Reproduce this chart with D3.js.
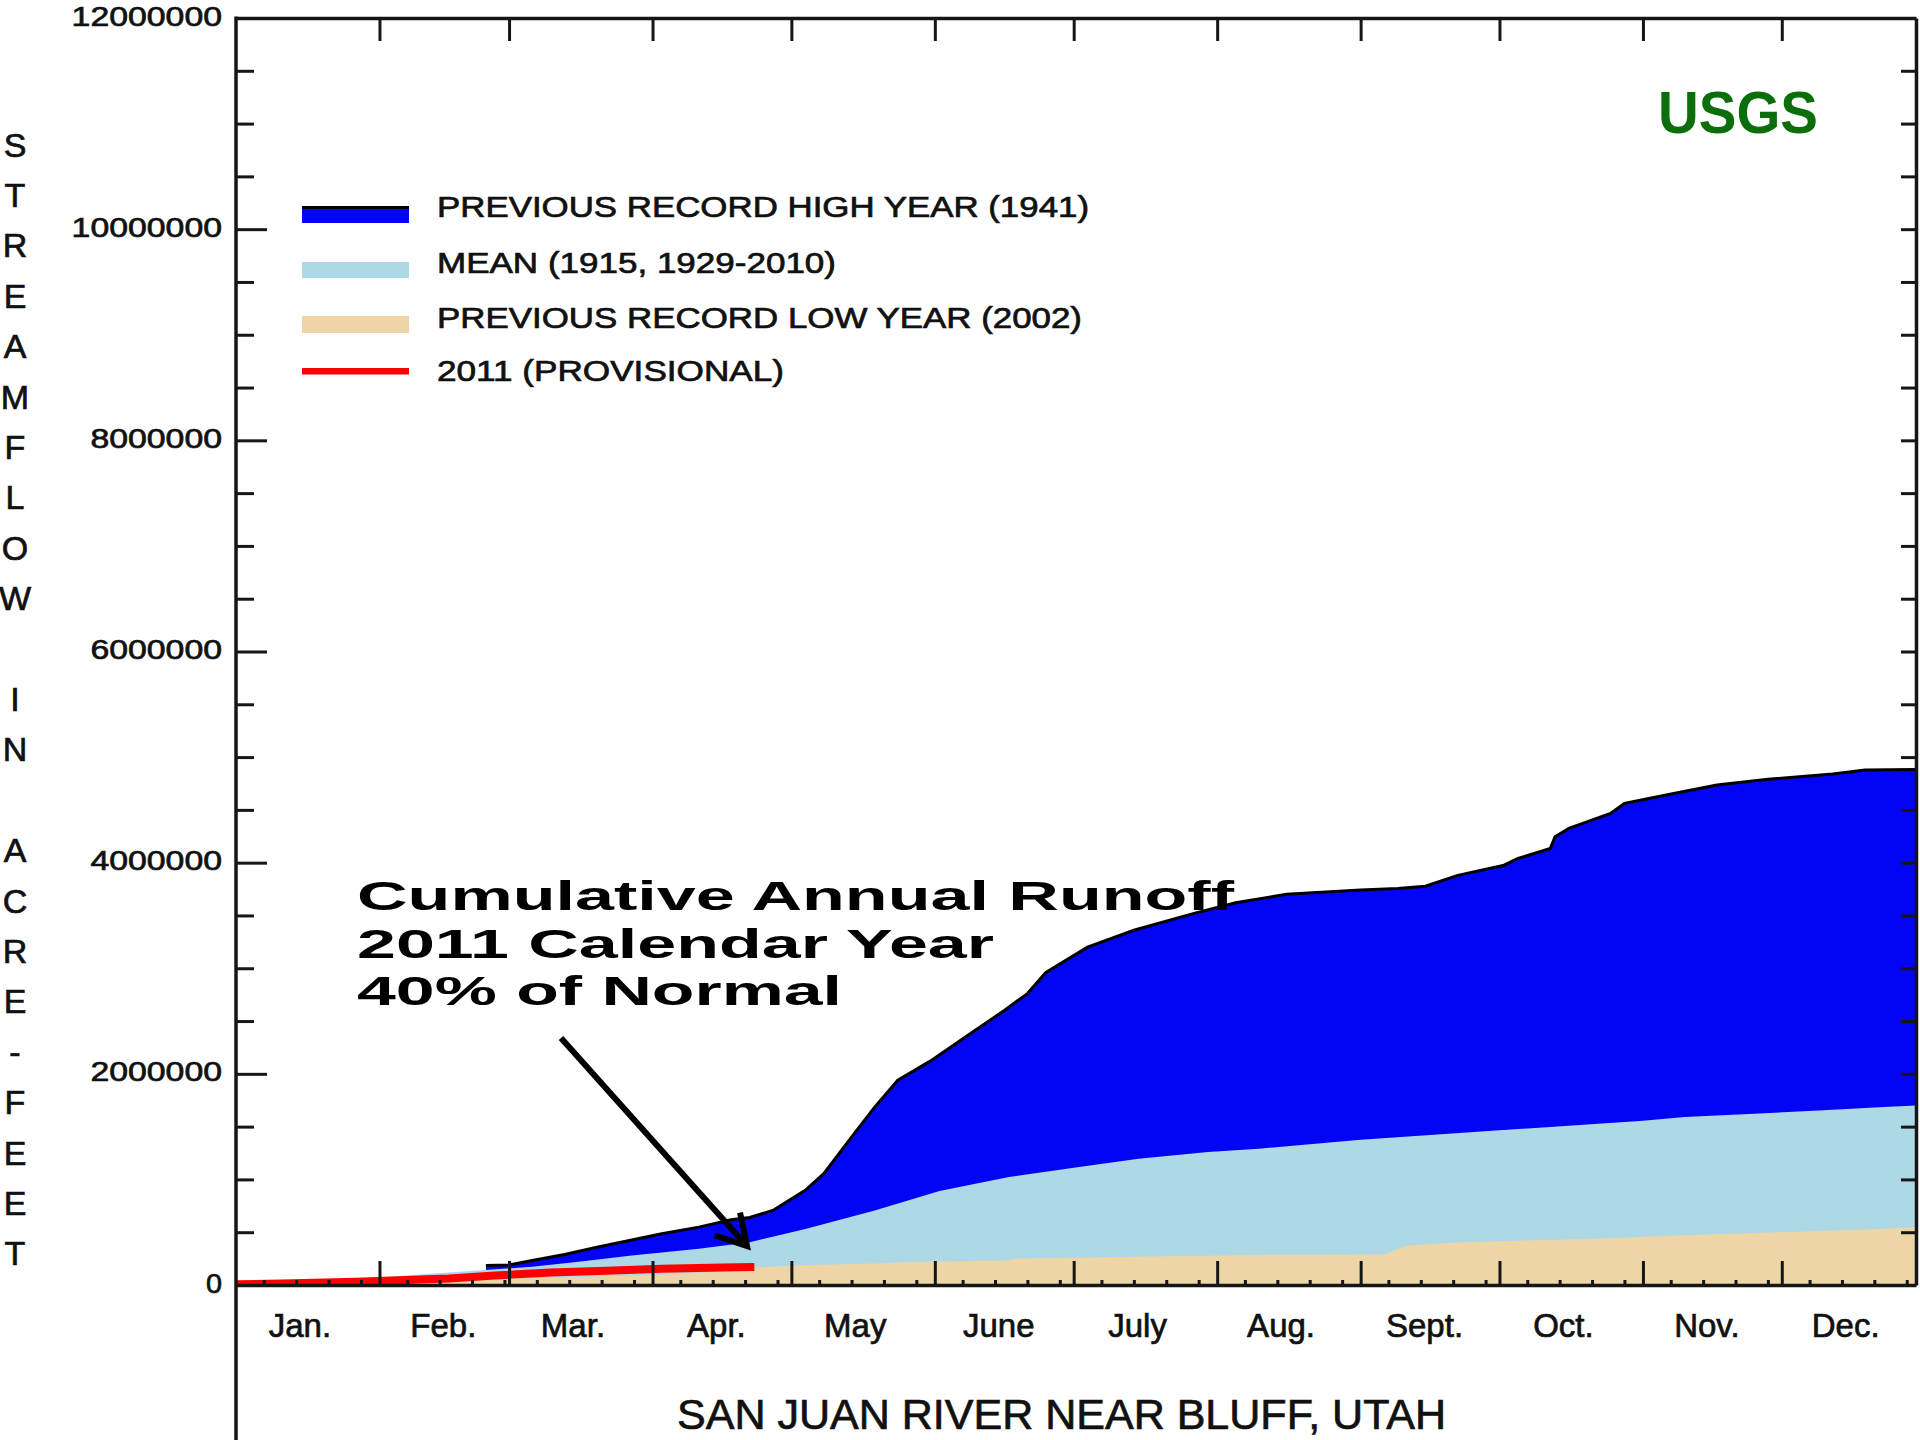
<!DOCTYPE html>
<html>
<head>
<meta charset="utf-8">
<script src="https://cdn.jsdelivr.net/npm/d3@7"></script>
<style>
  html, body { margin: 0; padding: 0; background: #fff; }
  svg { display: block; }
  text { font-family: "Liberation Sans", Arial, Helvetica, sans-serif; }
  .heavy { stroke: #111; stroke-width: 0.7px; paint-order: stroke; }
</style>
</head>
<body>
<svg id="chart" width="1920" height="1440"></svg>
<script>
// Cumulative streamflow, acre-feet, keyed by day of year (0 = Jan 1)
const highYear1941 = [
  [54, 185000], [59, 190000], [64, 232000], [71, 289000], [78, 358000], [85, 422000],
  [92, 485000], [100, 548000], [107, 618000], [111, 640000], [116, 706000], [123, 896000],
  [127, 1054000], [133, 1400000], [138, 1685000], [143, 1940000], [150, 2120000],
  [158, 2360000], [166, 2600000], [171, 2760000], [175, 2960000], [184, 3200000],
  [194, 3360000], [207, 3520000], [216, 3620000], [227, 3700000], [243, 3740000],
  [251, 3755000], [257, 3777000], [264, 3880000], [274, 3976000], [277, 4040000],
  [284, 4135000], [285, 4245000], [288, 4324000], [297, 4466000], [300, 4561000],
  [309, 4640000], [320, 4735000], [331, 4789000], [345, 4839000], [352, 4877000],
  [363, 4883000]
];
const meanFlow = [
  [0, 0], [15, 35000], [31, 72000], [42, 106000], [53, 140000], [64, 172000],
  [75, 225000], [85, 278000], [100, 343000], [111, 405000], [123, 530000],
  [138, 706000], [152, 890000], [167, 1022000], [181, 1111000], [195, 1196000],
  [210, 1259000], [221, 1291000], [243, 1375000], [273, 1465000], [304, 1555000],
  [313, 1590000], [328, 1623000], [343, 1654000], [356, 1685000], [363, 1700000]
];
const lowYear2002 = [
  [0, 0], [31, 28000], [59, 60000], [76, 78000], [90, 95000], [104, 125000],
  [112, 165000], [120, 185000], [140, 207000], [144, 215000], [166, 232000],
  [169, 250000], [220, 285000], [248, 290000], [253, 374000], [265, 406000],
  [294, 438000], [311, 469000], [334, 500000], [357, 532000], [363, 548000]
];
const provisional2011 = [
  [0, 6000], [10, 14000], [26, 30000], [35, 45000], [46, 62000], [56, 90000],
  [68, 118000], [80, 135000], [92, 155000], [105, 166000], [112, 170000]
];

const monthNames = ["Jan.", "Feb.", "Mar.", "Apr.", "May", "June", "July", "Aug.", "Sept.", "Oct.", "Nov.", "Dec."];
const monthStartDays = [0, 31, 59, 90, 120, 151, 181, 212, 243, 273, 304, 334];
const weekMarkOffsets = [6, 13, 20, 27];
const yTickValues = [0, 2000000, 4000000, 6000000, 8000000, 10000000, 12000000];
const legendLabels = [
  "PREVIOUS RECORD HIGH YEAR (1941)",
  "MEAN (1915, 1929-2010)",
  "PREVIOUS RECORD LOW YEAR (2002)",
  "2011 (PROVISIONAL)"
];
const noteLines = ["Cumulative Annual Runoff", "2011 Calendar Year", "40% of Normal"];
const stationName = "SAN JUAN RIVER NEAR BLUFF, UTAH";
const yAxisTitle = "STREAMFLOW IN ACRE-FEET";

const colors = { high: "#0303f6", mean: "#add8e6", low: "#eed5a6", current: "#ff0000", ink: "#161616", agency: "#0b6e0b" };

const svg = d3.select("#chart");
const plot = { left: 236, right: 1916, top: 18, bottom: 1285 };

const x = d3.scaleLinear().domain([0, 363]).range([plot.left, plot.right]);
const y = d3.scaleLinear().domain([0, 12000000]).range([plot.bottom, plot.top]);

svg.append("defs").append("clipPath").attr("id", "plot-clip")
  .append("rect")
  .attr("x", plot.left).attr("y", plot.top)
  .attr("width", plot.right - plot.left).attr("height", plot.bottom - plot.top);

const area = d3.area().x(d => x(d[0])).y0(y(0)).y1(d => y(d[1]));
const line = d3.line().x(d => x(d[0])).y(d => y(d[1]));

const marks = svg.append("g").attr("clip-path", "url(#plot-clip)");
marks.append("path").datum(highYear1941).attr("d", area).attr("fill", colors.high);
marks.append("path").datum(highYear1941).attr("d", line)
  .attr("fill", "none").attr("stroke", "#000").attr("stroke-width", 3);
marks.append("path").datum(meanFlow).attr("d", area).attr("fill", colors.mean);
marks.append("path").datum(lowYear2002).attr("d", area).attr("fill", colors.low);
marks.append("path").datum(provisional2011).attr("d", line)
  .attr("fill", "none").attr("stroke", colors.current).attr("stroke-width", 8);

// ---- axes ----
function styleAxis(g) {
  g.selectAll("path.domain").attr("stroke", colors.ink).attr("stroke-width", 3.5);
  g.selectAll(".tick line").attr("stroke", colors.ink).attr("stroke-width", 3);
}

const minorY = d3.range(500000, 12000000, 500000).filter(v => v % 2000000 !== 0);

// left: labelled major ticks, shorter minor ticks, both pointing inward
const leftMajor = svg.append("g").attr("transform", `translate(${plot.left},0)`)
  .call(d3.axisLeft(y).tickValues(yTickValues).tickSize(-31).tickSizeOuter(0).tickPadding(14)
    .tickFormat(d3.format("d")));
leftMajor.selectAll("path.domain").remove();
leftMajor.selectAll(".tick text")
  .attr("class", "heavy")
  .attr("font-size", 28).attr("fill", "#111").attr("dy", "0.25em")
  .attr("textLength", d => String(d).length === 1 ? 16 : String(d).length * 18.8)
  .attr("lengthAdjust", "spacingAndGlyphs");
leftMajor.call(styleAxis);

const leftMinor = svg.append("g").attr("transform", `translate(${plot.left},0)`)
  .call(d3.axisLeft(y).tickValues(minorY).tickSize(-18).tickSizeOuter(0).tickFormat(""));
leftMinor.selectAll("path.domain").remove();
leftMinor.call(styleAxis);

// right: uniform inward ticks
const rightAxis = svg.append("g").attr("transform", `translate(${plot.right},0)`)
  .call(d3.axisRight(y).tickValues(d3.range(500000, 12000000, 500000)).tickSize(-15).tickSizeOuter(0).tickFormat(""));
rightAxis.call(styleAxis);

// top: month boundaries
const topAxis = svg.append("g").attr("transform", `translate(0,${plot.top})`)
  .call(d3.axisTop(x).tickValues(monthStartDays.slice(1)).tickSize(-23).tickSizeOuter(0).tickFormat(""));
topAxis.call(styleAxis);

// bottom: month boundaries, weekly marks and month names
const bottomMajor = svg.append("g").attr("transform", `translate(0,${plot.bottom})`)
  .call(d3.axisBottom(x).tickValues(monthStartDays.slice(1)).tickSize(-24).tickSizeOuter(0).tickFormat(""));
bottomMajor.call(styleAxis);

const weekDays = monthStartDays.flatMap(s => weekMarkOffsets.map(o => s + o)).filter(d => d <= 363);
const bottomMinor = svg.append("g").attr("transform", `translate(0,${plot.bottom})`)
  .call(d3.axisBottom(x).tickValues(weekDays).tickSize(-5).tickSizeOuter(0).tickFormat(""));
bottomMinor.selectAll("path.domain").remove();
bottomMinor.call(styleAxis);

const monthLabelDays = monthStartDays.map(s => s + 13.7);
const monthAxis = svg.append("g").attr("transform", `translate(0,${plot.bottom})`)
  .call(d3.axisBottom(x).tickValues(monthLabelDays).tickSize(0).tickPadding(29)
    .tickFormat((d, i) => monthNames[i]));
monthAxis.selectAll("path.domain").remove();
monthAxis.selectAll(".tick text").attr("class", "heavy").attr("font-size", 33).attr("fill", "#111");

// left frame line runs to the foot of the page
svg.append("line")
  .attr("x1", plot.left).attr("x2", plot.left)
  .attr("y1", plot.top - 1.5).attr("y2", 1440)
  .attr("stroke", colors.ink).attr("stroke-width", 3.5);

// ---- vertical axis title, one letter per row ----
const titleText = svg.append("text").attr("class", "heavy")
  .attr("text-anchor", "middle").attr("font-size", 34).attr("fill", "#111");
yAxisTitle.split("").forEach((ch, i) => {
  if (ch === " ") return;
  titleText.append("tspan").attr("x", 15).attr("y", 144.5 + 50.4 * i + 12).text(ch);
});

// ---- station name ----
svg.append("text").attr("class", "heavy")
  .attr("x", 1061.5).attr("y", 1429)
  .attr("text-anchor", "middle").attr("font-size", 43).attr("fill", "#111")
  .attr("textLength", 769).attr("lengthAdjust", "spacingAndGlyphs")
  .text(stationName);

// ---- agency mark ----
svg.append("text")
  .attr("x", 1738).attr("y", 133)
  .attr("text-anchor", "middle").attr("font-size", 60).attr("font-weight", "bold")
  .attr("fill", colors.agency)
  .attr("textLength", 160).attr("lengthAdjust", "spacingAndGlyphs")
  .text("USGS");

// ---- legend ----
const legendRows = [
  { label: legendLabels[0], fill: colors.high, top: 206, h: 17, edge: true, baseline: 217, width: 652 },
  { label: legendLabels[1], fill: colors.mean, top: 262, h: 16, edge: false, baseline: 273, width: 399 },
  { label: legendLabels[2], fill: colors.low, top: 316, h: 17, edge: false, baseline: 328, width: 645 },
  { label: legendLabels[3], fill: colors.current, top: 368, h: 6.5, edge: false, baseline: 381, width: 347 }
];
const legend = svg.append("g");
legendRows.forEach(r => {
  legend.append("rect").attr("x", 302).attr("y", r.top).attr("width", 107).attr("height", r.h).attr("fill", r.fill);
  if (r.edge) {
    legend.append("rect").attr("x", 302).attr("y", r.top).attr("width", 107).attr("height", 3).attr("fill", "#000");
  }
  legend.append("text").attr("class", "heavy")
    .attr("x", 437).attr("y", r.baseline)
    .attr("font-size", 29).attr("fill", "#111")
    .attr("textLength", r.width).attr("lengthAdjust", "spacingAndGlyphs")
    .text(r.label);
});

// ---- annotation ----
const noteWidths = [877, 637, 485];
const noteBaselines = [910, 958, 1005];
noteLines.forEach((t, i) => {
  svg.append("text")
    .attr("x", 357).attr("y", noteBaselines[i])
    .attr("font-size", 41).attr("font-weight", "bold").attr("fill", "#000")
    .attr("textLength", noteWidths[i]).attr("lengthAdjust", "spacingAndGlyphs")
    .text(t);
});

// arrow pointing at the 2011 trace
const arrowFrom = [561, 1038], arrowTip = [747, 1246];
const ang = Math.atan2(arrowFrom[1] - arrowTip[1], arrowFrom[0] - arrowTip[0]);
const headLen = 34, spread = Math.PI / 6;
const head1 = [arrowTip[0] + headLen * Math.cos(ang + spread), arrowTip[1] + headLen * Math.sin(ang + spread)];
const head2 = [arrowTip[0] + headLen * Math.cos(ang - spread), arrowTip[1] + headLen * Math.sin(ang - spread)];
const arrow = svg.append("g").attr("stroke", "#000").attr("stroke-width", 6).attr("fill", "none").attr("stroke-linecap", "butt");
arrow.append("line").attr("x1", arrowFrom[0]).attr("y1", arrowFrom[1]).attr("x2", arrowTip[0]).attr("y2", arrowTip[1]);
arrow.append("path").attr("d", `M${head1[0]},${head1[1]}L${arrowTip[0]},${arrowTip[1]}L${head2[0]},${head2[1]}`)
  .attr("stroke-linejoin", "miter");
</script>
</body>
</html>
